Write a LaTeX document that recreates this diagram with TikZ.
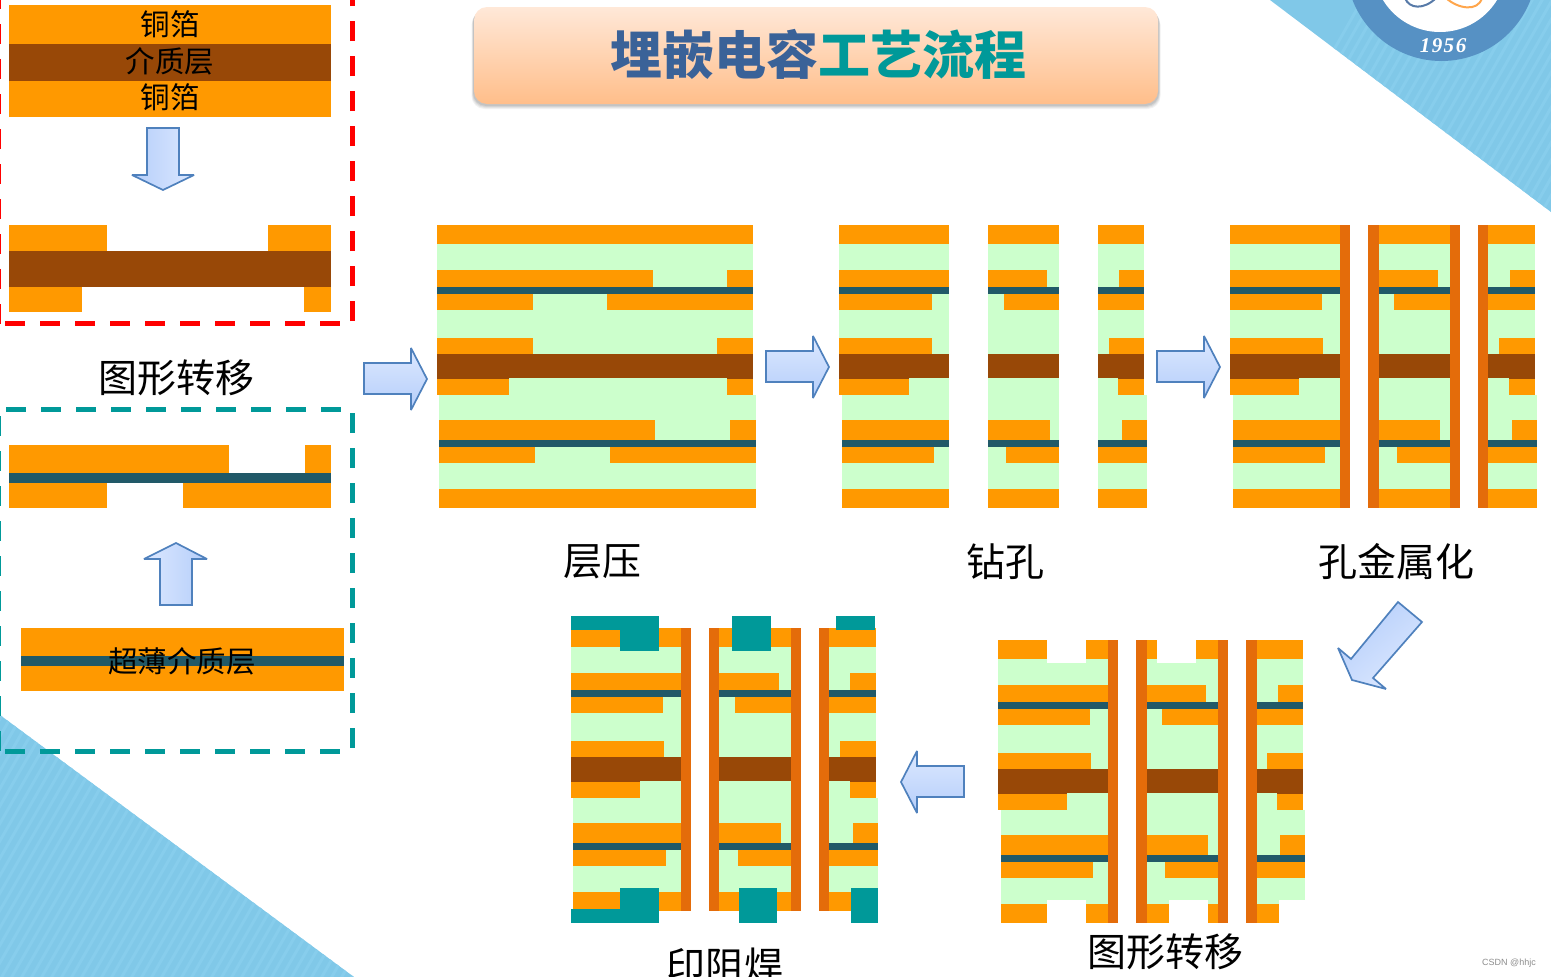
\documentclass[tikz,border=0pt]{standalone}
\usepackage{fontspec}
\setmainfont{Liberation Serif}
\newfontfamily\cjk{Noto Sans CJK SC}
\newfontfamily\wmfont{Liberation Sans}
\definecolor{cu}{HTML}{FF9900}
\definecolor{diel}{HTML}{984807}
\definecolor{thinlayer}{HTML}{215968}
\definecolor{resin}{HTML}{CCFFCC}
\definecolor{plate}{HTML}{E46C0A}
\definecolor{mask}{HTML}{009999}
\definecolor{arrowline}{HTML}{4F81BD}
\definecolor{arrowlight}{HTML}{DCE8FF}
\definecolor{arrowdark}{HTML}{B5CEFA}
\definecolor{sky}{HTML}{80C8E8}
\definecolor{skylight}{HTML}{87CDEC}
\definecolor{logoblue}{HTML}{5691C4}
\definecolor{titleblue}{HTML}{3A6298}
\definecolor{titletop}{HTML}{FFE8D8}
\definecolor{titlebot}{HTML}{FFBE8A}
\tikzset{
  redline/.style={draw=red,line width=5pt,dash pattern=on 20pt off 15pt},
  tealline/.style={draw=mask,line width=5pt,dash pattern=on 20pt off 15pt},
  arrowv/.style={draw=arrowline,line width=1.7pt,line join=miter,miter limit=2,left color=#1,right color=arrowlight},
  arrowh/.style={draw=arrowline,line width=1.7pt,line join=miter,miter limit=2,top color=arrowlight,bottom color=arrowdark},
  caption/.style={inner sep=0pt,font=\cjk\fontsize{39}{39}\selectfont},
  onfoil/.style={inner sep=0pt,font=\cjk\fontsize{29.5}{29.5}\selectfont},
}
\newcommand{\bx}[5]{\fill[#1] (#2,#3) rectangle (#4,#5);}
% column of the stack: upper xL xR, lower xL xR
\newcommand{\colbase}[4]{%
  \bx{resin}{#1}{244}{#2}{395}\bx{resin}{#3}{395}{#4}{489}%
  \bx{diel}{#1}{354}{#2}{378}\bx{thinlayer}{#1}{287}{#2}{294}\bx{thinlayer}{#3}{440}{#4}{447}}
\newcommand{\rt}[2]{\bx{cu}{#1}{225}{#2}{244}}
\newcommand{\rz}[2]{\bx{cu}{#1}{489}{#2}{508}}
\newcommand{\ra}[2]{\bx{cu}{#1}{270}{#2}{287}}
\newcommand{\rb}[2]{\bx{cu}{#1}{294}{#2}{310}}
\newcommand{\rc}[2]{\bx{cu}{#1}{338}{#2}{354}}
\newcommand{\rd}[2]{\bx{diel}{#1}{378}{#2}{379}\bx{cu}{#1}{379}{#2}{395}}
\newcommand{\re}[2]{\bx{cu}{#1}{420}{#2}{440}}
\newcommand{\rf}[2]{\bx{cu}{#1}{447}{#2}{463}}
\newcommand{\hole}[2]{\bx{plate}{#1}{225}{#2}{508}}
\newcommand{\cuttop}[2]{\bx{white}{#1}{244}{#2}{248}}
\newcommand{\cutbot}[2]{\bx{white}{#1}{485.5}{#2}{490}}
\begin{document}
\begin{tikzpicture}[x=1pt,y=-1pt]
\useasboundingbox (0,0) rectangle (1551,977);
\clip (0,0) rectangle (1551,977);
% background corners
\begin{scope}
  \clip (1270,0) -- (1551,212) -- (1551,0) -- cycle;
  \fill[sky] (1260,-5) rectangle (1551,215);
  \foreach \k in {0,...,60} {\draw[skylight,line width=3pt] (1240+\k*10,215) -- ++(125,-220);}
\end{scope}
\begin{scope}
  \clip (0,715) -- (354,977) -- (0,977) -- cycle;
  \fill[sky] (0,710) rectangle (360,977);
  \foreach \k in {-15,...,40} {\draw[skylight,line width=3pt] (\k*10,980) -- ++(155,-270);}
\end{scope}
% logo
\fill[logoblue] (1441.5,-34.4) circle[radius=95.4];
\fill[white] (1440,-34.8) circle[radius=66.8];
\draw[titleblue!85!white,line width=2pt] (1405,-2) .. controls (1409,9) and (1424,10) .. (1436,-2);
\draw[orange!70!white,line width=2pt] (1446,-2) .. controls (1458,9) and (1478,12) .. (1482,-2);
\node[inner sep=0pt,text=white,font=\fontsize{21}{21}\itshape\bfseries\selectfont] (year) at (1443,45.5) {1\kern1.5pt9\kern1.5pt5\kern1.5pt6};
% title
\foreach \d/\o in {5/.05,4/.06,3/.07,2/.08} {\fill[black,opacity=\o,rounded corners=13pt] (474-\d/2,7+\d) rectangle (1158+\d/2,104+\d);}
\node[rounded corners=13pt,minimum width=684pt,minimum height=97pt,inner sep=0pt,top color=titletop,bottom color=titlebot] (titlebox) at (816,55.5) {};
\node[inner sep=0pt,font=\cjk\fontsize{52}{52}\selectfont\bfseries] (title) at (818,54) {\textcolor{titleblue}{埋嵌电容}\textcolor{mask}{工艺流程}};
% left top panel
\bx{cu}{9}{5}{331}{44}\bx{diel}{9}{44}{331}{81}\bx{cu}{9}{81}{331}{117}
\node[onfoil] (foila) at (170,24) {铜箔};
\node[onfoil] (core) at (170,61) {介质层};
\node[onfoil] (foilb) at (170,97) {铜箔};
\path[arrowv=arrowdark] (147,128) -- (179,128) -- (179,175) -- (194,175) -- (163,190) -- (132,175) -- (147,175) -- cycle;
\bx{cu}{9}{225}{107}{251}\bx{cu}{268}{225}{331}{251}\bx{diel}{9}{251}{331}{287}\bx{cu}{9}{287}{82}{312}\bx{cu}{304}{287}{331}{312}
\draw[redline] (352.5,321) -- (352.5,-14);
\draw[redline] (5,323.5) -- (340,323.5);
\draw[redline] (-1.5,324) -- (-1.5,-5);
\node[caption] (capa) at (176,378) {图形转移};
% left lower panel
\bx{cu}{9}{445}{229}{473}\bx{cu}{305}{445}{331}{473}\bx{thinlayer}{9}{473}{331}{483}\bx{cu}{9}{483}{107}{508}\bx{cu}{183}{483}{331}{508}
\path[arrowv=arrowdark,left color=arrowlight,right color=arrowdark] (160,605) -- (192,605) -- (192,559) -- (207,559) -- (176,543) -- (144,559) -- (160,559) -- cycle;
\bx{cu}{21}{628}{344}{656}\bx{thinlayer}{21}{656}{344}{666}\bx{cu}{21}{666}{344}{691}
\node[inner sep=0pt,font=\cjk\fontsize{29.5}{29.5}\selectfont] (ultra) at (182,661) {超薄介质层};
\draw[tealline] (6,409.5) -- (341,409.5);
\draw[tealline] (352.5,413) -- (352.5,748);
\draw[tealline] (5,751.5) -- (340,751.5);
\draw[tealline] (-1.5,416) -- (-1.5,752);
% arrows between steps
\path[arrowh] (364,363) -- (411,363) -- (411,348) -- (427,379) -- (411,410) -- (411,394) -- (364,394) -- cycle;
\path[arrowh] (766,351) -- (813,351) -- (813,336) -- (829,367) -- (813,398) -- (813,382) -- (766,382) -- cycle;
\path[arrowh] (1157,351) -- (1204,351) -- (1204,336) -- (1220,367) -- (1204,398) -- (1204,382) -- (1157,382) -- cycle;
\path[arrowh] (964,766) -- (917,766) -- (917,751) -- (901,782) -- (917,813) -- (917,797) -- (964,797) -- cycle;
\path[draw=arrowline,line width=1.7pt,miter limit=2,left color=arrowdark,right color=arrowlight,shading angle=40] (1398,602) -- (1422,622) -- (1373,678) -- (1386,689) -- (1352,680) -- (1338,648) -- (1351,659) -- cycle;
% step: lamination
\colbase{437}{753}{439}{756}
\rt{437}{753}\ra{437}{653}\ra{727}{753}\rb{437}{533}\rb{607}{753}\rc{437}{533}\rc{717}{753}\rd{437}{509}\rd{727}{753}
\re{439}{655}\re{730}{756}\rf{439}{535}\rf{610}{756}\rz{439}{756}
\node[caption] (capb) at (602,562) {层压};
% step: drilling
\colbase{839}{949}{842}{949}
\rt{839}{949}\ra{839}{949}\rb{839}{932}\rc{839}{932}\rd{839}{909}\re{842}{949}\rf{842}{934}\rz{842}{949}
\colbase{988}{1059}{988}{1059}
\rt{988}{1059}\ra{988}{1047}\rb{1004}{1059}\re{988}{1050}\rf{1006}{1059}\rz{988}{1059}
\colbase{1098}{1144}{1098}{1147}
\rt{1098}{1144}\ra{1119}{1144}\rb{1098}{1144}\rc{1109}{1144}\rd{1118}{1144}\re{1122}{1147}\rf{1098}{1147}\rz{1098}{1147}
\node[caption] (capc) at (1005,562) {钻孔};
% step: hole plating
\colbase{1230}{1340}{1233}{1340}
\rt{1230}{1340}\ra{1230}{1340}\rb{1230}{1322}\rc{1230}{1323}\rd{1230}{1299}\re{1233}{1340}\rf{1233}{1325}\rz{1233}{1340}
\hole{1340}{1350}
\colbase{1379}{1450}{1379}{1450}
\rt{1379}{1450}\ra{1379}{1438}\rb{1394}{1450}\re{1379}{1440}\rf{1397}{1450}\rz{1379}{1450}
\hole{1368}{1379}\hole{1450}{1460}
\colbase{1488}{1535}{1488}{1537}
\rt{1488}{1535}\ra{1510}{1535}\rb{1488}{1535}\rc{1499}{1535}\rd{1509}{1535}\re{1512}{1537}\rf{1488}{1537}\rz{1488}{1537}
\hole{1478}{1488}
\node[caption] (capd) at (1396,562) {孔金属化};
% step: pattern transfer
\begin{scope}[shift={(0,414.5)}]
\colbase{998}{1108}{1001}{1108}
\rt{998}{1047}\rt{1086}{1108}\cuttop{1047}{1086}\ra{998}{1108}\rb{998}{1090}\rc{998}{1091}\rd{998}{1067}\re{1001}{1108}\rf{1001}{1093}\cutbot{1047}{1086}\rz{1001}{1047}\rz{1086}{1108}
\hole{1108}{1118}
\colbase{1147}{1218}{1147}{1218}
\rt{1147}{1157}\rt{1196}{1218}\cuttop{1157}{1196}\ra{1147}{1206}\rb{1162}{1218}\re{1147}{1208}\rf{1165}{1218}\cutbot{1169}{1208}\rz{1147}{1169}\rz{1208}{1218}
\hole{1136}{1147}\hole{1218}{1228}
\colbase{1257}{1303}{1257}{1305}
\rt{1257}{1303}\ra{1278}{1303}\rb{1257}{1303}\rc{1267}{1303}\rd{1277}{1303}\re{1280}{1305}\rf{1257}{1305}\cutbot{1279}{1306}\rz{1257}{1279}
\hole{1246}{1257}
\end{scope}
\node[caption] (cape) at (1165,952) {图形转移};
% step: solder mask
\begin{scope}[shift={(0,403)}]
\colbase{571}{681}{573}{681}
\rt{571}{681}\ra{571}{681}\rb{571}{663}\rc{571}{664}\rd{571}{640}\re{573}{681}\rf{573}{666}\rz{573}{681}
\hole{681}{691}
\colbase{719}{791}{719}{791}
\rt{719}{791}\ra{719}{779}\rb{735}{791}\re{719}{781}\rf{738}{791}\rz{719}{791}
\hole{709}{719}\hole{791}{801}
\colbase{829}{876}{829}{878}
\rt{829}{876}\ra{850}{876}\rb{829}{876}\rc{840}{876}\rd{850}{876}\re{853}{878}\rf{829}{878}\rz{829}{878}
\hole{819}{829}
\end{scope}
\bx{mask}{571}{616}{659}{630}\bx{mask}{620}{616}{659}{651}
\bx{mask}{620}{888}{659}{923}\bx{mask}{571}{909}{659}{923}
\bx{mask}{732}{616}{771}{651}\bx{mask}{739}{888}{777}{923}
\bx{mask}{836}{616}{875}{630}\bx{mask}{851}{888}{878}{923}
\node[caption] (capf) at (725,966) {印阻焊};
\node[inner sep=0pt,text=black!45,font=\wmfont\fontsize{9}{9}\selectfont] (mark) at (1509,963) {CSDN @hhjc};
\end{tikzpicture}
\end{document}
